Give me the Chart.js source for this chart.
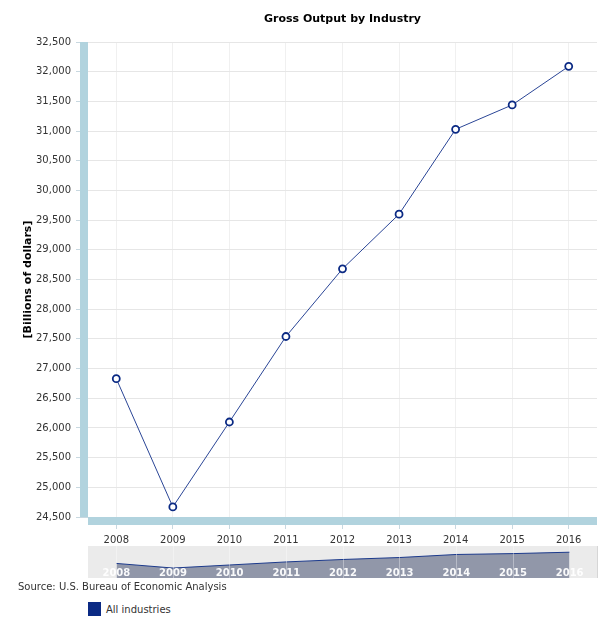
<!DOCTYPE html>
<html>
<head>
<meta charset="utf-8">
<script src="https://cdn.jsdelivr.net/npm/chart.js@4"></script>
<style>
  body { margin: 0; background: #fff; font-family: "DejaVu Sans", Verdana, sans-serif; }
  #wrap { position: relative; width: 613px; height: 640px; }
  #mainChart { position: absolute; left: 0; top: 0; }
  #navChart { position: absolute; left: 0; top: 546px; }
  .source { position: absolute; left: 18px; top: 581px; font-size: 10px; color: #333; }
  .legend { position: absolute; left: 88px; top: 602px; font-size: 10px; color: #333; display: flex; align-items: center; }
  .legend .box { width: 13px; height: 14px; background: #0b2a84; margin-right: 5px; display: inline-block; }
</style>
</head>
<body>
<div id="wrap">
  <canvas id="mainChart" width="613" height="548"></canvas>
  <canvas id="navChart" width="613" height="32"></canvas>
  <div class="source">Source: U.S. Bureau of Economic Analysis</div>
  <div class="legend"><span class="box"></span>All industries</div>
</div>
<script>
const years = ['2008', '2009', '2010', '2011', '2012', '2013', '2014', '2015', '2016'];
const grossOutput = [26830, 24670, 26100, 27540, 28680, 29600, 31030, 31440, 32090];
const yRange = [24500, 32500];
const yStep = 500;
const navRange = [20000, 35000];

const font = 'DejaVu Sans';

// thick light blue axis lines, drawn just outside the plot area
const axisBars = {
  id: 'axisBars',
  beforeDatasetsDraw(chart) {
    const { ctx, chartArea: a } = chart;
    ctx.save();
    ctx.fillStyle = '#b1d3de';
    ctx.fillRect(a.left - 8, a.top, 8, a.bottom - a.top);
    ctx.fillRect(a.left, a.bottom, a.right - a.left, 8);
    ctx.restore();
  }
};

const navBg = {
  id: 'navBg',
  beforeDraw(chart) {
    const { ctx, chartArea: a } = chart;
    ctx.save();
    ctx.fillStyle = '#ebebeb';
    ctx.fillRect(a.left, a.top, a.right - a.left, a.bottom - a.top);
    ctx.fillStyle = '#d6d6d6';
    ctx.fillRect(a.right - 1, a.top, 1, a.bottom - a.top);
    ctx.restore();
  }
};

new Chart(document.getElementById('mainChart'), {
  type: 'line',
  data: {
    labels: years,
    datasets: [{
      label: 'All industries',
      data: grossOutput,
      borderColor: '#2a4596',
      borderWidth: 1,
      pointRadius: 3.5,
      pointBorderWidth: 1.8,
      pointBackgroundColor: '#fff',
      pointBorderColor: '#0b2a84',
      tension: 0
    }]
  },
  options: {
    responsive: false,
    animation: false,
    layout: { padding: { left: 0, right: 16, top: 0, bottom: 0 } },
    plugins: {
      legend: { display: false },
      tooltip: { enabled: false },
      title: {
        display: true,
        text: 'Gross Output by Industry',
        fullSize: false,
        color: '#000',
        font: { family: font, size: 11, weight: 'bold' },
        padding: { top: 13, bottom: 15.8 }
      }
    },
    scales: {
      x: {
        offset: true,
        grid: { offset: false, color: '#f0f0f0', tickColor: '#c8d8e0', tickLength: 12 },
        border: { display: false },
        ticks: { color: '#333', font: { family: font, size: 10 }, padding: 5, maxRotation: 0 },
        afterFit(s) { s.height = 31; }
      },
      y: {
        min: yRange[0],
        max: yRange[1],
        grid: { color: '#e6e6e6', tickColor: '#c8d8e0', tickLength: 12 },
        border: { display: false },
        ticks: {
          stepSize: yStep,
          color: '#333',
          font: { family: font, size: 10 },
          padding: 5,
          callback: v => v.toLocaleString('en-US')
        },
        title: {
          display: true,
          text: '[Billions of dollars]',
          color: '#000',
          font: { family: font, size: 11, weight: 'bold' },
          padding: { top: 22, bottom: 0 }
        },
        afterFit(s) { s.width = 88; }
      }
    }
  },
  plugins: [axisBars]
});

// navigator strip under the main chart, year labels sit inside it
new Chart(document.getElementById('navChart'), {
  type: 'line',
  data: {
    labels: years,
    datasets: [{
      data: grossOutput,
      borderColor: '#1c3a8c',
      borderWidth: 1,
      backgroundColor: '#9197a9',
      fill: 'start',
      pointRadius: 0,
      tension: 0
    }]
  },
  options: {
    responsive: false,
    animation: false,
    layout: { padding: { left: 88, right: 15, top: 0, bottom: 0 } },
    plugins: { legend: { display: false }, tooltip: { enabled: false } },
    scales: {
      x: {
        offset: true,
        grid: { offset: false, color: 'rgba(255,255,255,0.35)', drawTicks: false, z: 1 },
        border: { display: false },
        ticks: { color: 'rgba(255,255,255,0.95)', font: { family: font, size: 10, weight: 'bold' }, mirror: true, padding: -1, maxRotation: 0, z: 2 },
        afterFit(s) { s.height = 0; }
      },
      y: { display: false, min: navRange[0], max: navRange[1] }
    }
  },
  plugins: [navBg]
});
</script>
</body>
</html>
